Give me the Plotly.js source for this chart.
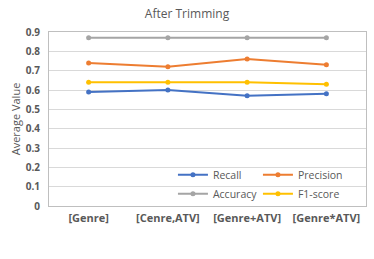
<!DOCTYPE html>
<html>
<head>
<meta charset="utf-8">
<script src="https://cdn.plot.ly/plotly-3.0.1.min.js"></script>
<style>html,body{margin:0;padding:0;background:#fff}#chart{width:374px;height:259px}</style>
</head>
<body>
<div id="chart"></div>
<script>
const categories = ["[Genre]", "[Cenre,ATV]", "[Genre+ATV]", "[Genre*ATV]"];
const recall = [0.59, 0.60, 0.57, 0.58];
const precision = [0.74, 0.72, 0.76, 0.73];
const accuracy = [0.87, 0.87, 0.87, 0.87];
const f1score = [0.64, 0.64, 0.64, 0.63];
const yTicks = [0, 0.1, 0.2, 0.3, 0.4, 0.5, 0.6, 0.7, 0.8, 0.9];

function tr(name, y, color, legend) {
  return {
    x: categories, y: y, name: name, type: 'scatter', mode: 'lines+markers',
    line: {color: color, width: 2}, marker: {color: color, size: 5},
    legend: legend
  };
}
const data = [
  tr('Recall', recall, '#4472C4', 'legend'),
  tr('Precision', precision, '#ED7D31', 'legend'),
  tr('Accuracy', accuracy, '#A5A5A5', 'legend2'),
  tr('F1-score', f1score, '#FFC000', 'legend2')
];
const font = "Open Sans, Liberation Sans, sans-serif";
const legendBase = {
  orientation: 'h', xref: 'paper', yref: 'paper', xanchor: 'left', yanchor: 'middle',
  bgcolor: 'rgba(0,0,0,0)', font: {family: font, size: 10.5, color: '#595959'},
  itemwidth: 30, entrywidth: 40, tracegroupgap: 0
};
const layout = {
  width: 374, height: 259,
  margin: {l: 49, r: 8, t: 32, b: 53},
  paper_bgcolor: '#fff', plot_bgcolor: '#fff',
  title: {text: 'After Trimming', x: 0.5, xanchor: 'center', y: 0.945, yanchor: 'middle', font: {family: font, size: 12, color: '#595959'}},
  font: {family: font},
  xaxis: {
    type: 'category', range: [-0.5, 3.5], showgrid: false, zeroline: false,
    showline: true, mirror: true, linecolor: '#BFBFBF', linewidth: 1,
    ticks: '', ticklabelstandoff: 2, tickfont: {family: font, size: 11, color: '#595959', weight: 'bold'}
  },
  yaxis: {
    range: [0, 0.9], tickvals: yTicks, showgrid: true, gridcolor: '#D9D9D9', zeroline: false,
    showline: true, mirror: true, linecolor: '#BFBFBF', linewidth: 1,
    ticks: '', ticklabelstandoff: 6, tickfont: {family: font, size: 10, color: '#595959', weight: 'bold'},
    title: {text: 'Average Value', font: {family: font, size: 11, color: '#595959'}, standoff: 2}
  },
  legend: Object.assign({}, legendBase, {x: 0.391, y: 0.18}),
  legend2: Object.assign({}, legendBase, {x: 0.391, y: 0.07}),
  showlegend: true
};
Plotly.newPlot('chart', data, layout, {staticPlot: true, displayModeBar: false});
</script>
</body>
</html>
